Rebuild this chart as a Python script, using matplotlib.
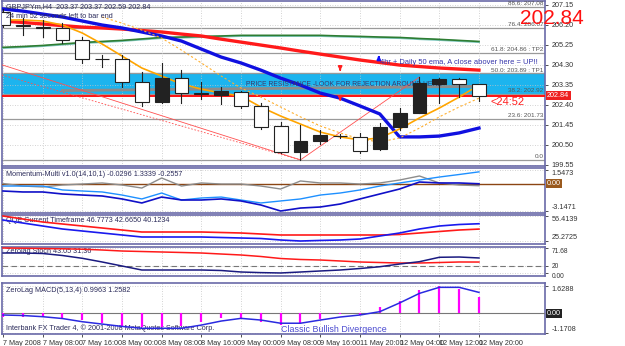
import numpy as np
import matplotlib.pyplot as plt
from matplotlib.patches import Rectangle
from matplotlib.transforms import blended_transform_factory

W, H = 625, 346
plt.rcParams['font.family'] = ['Liberation Sans', 'DejaVu Sans']

# ---------------- data ----------------
x_labels = ["7 May 2008", "7 May 08:00", "7 May 16:00", "8 May 00:00", "8 May 08:00",
            "8 May 16:00", "9 May 00:00", "9 May 08:00", "9 May 16:00", "11 May 20:00",
            "12 May 04:00", "12 May 12:00", "12 May 20:00"]

opens = [206.80, 206.21, 206.11, 206.05, 205.48, 204.60, 204.58, 203.49, 202.54, 203.67,
         202.98, 202.87, 203.01, 202.35, 201.40, 200.17, 200.69, 200.94, 200.88, 200.31,
         201.35, 202.01, 203.39, 203.63, 203.37]
highs = [206.95, 206.52, 206.43, 206.28, 205.62, 204.77, 204.77, 203.96, 204.39, 204.05,
         203.49, 203.25, 203.06, 202.49, 201.59, 201.45, 201.21, 201.02, 201.07, 201.54,
         202.25, 203.72, 203.67, 203.67, 203.37]
lows = [206.10, 205.71, 205.62, 205.33, 204.39, 204.20, 203.25, 202.35, 202.49, 202.49,
        202.67, 202.44, 202.25, 201.26, 200.12, 199.79, 200.54, 200.83, 200.12, 200.26,
        201.21, 202.01, 202.49, 202.77, 202.59]
closes = [206.19, 206.15, 206.07, 205.48, 204.58, 204.56, 203.49, 202.54, 203.67, 202.96,
          202.94, 203.06, 202.35, 201.35, 200.17, 200.69, 200.97, 200.90, 200.21, 201.35,
          202.01, 203.44, 203.63, 203.39, 202.84]

ma_blue = [206.95, 206.85, 206.71, 206.57, 206.38, 206.19, 206.05, 205.86, 205.67, 205.43,
           205.05, 204.67, 204.39, 204.05, 203.67, 203.34, 202.96, 202.72, 202.35, 201.97,
           200.88, 200.88, 200.92, 201.07, 201.30]
ma_red = [206.38, 206.31, 206.24, 206.16, 206.09, 206.05, 206.00, 205.93, 205.86, 205.76,
          205.67, 205.52, 205.38, 205.24, 205.10, 204.95, 204.81, 204.67, 204.53, 204.41,
          204.29, 204.22, 204.15, 204.10, 204.05]
ma_green = [205.10, 205.14, 205.19, 205.26, 205.33, 205.38, 205.43, 205.50, 205.57, 205.59,
            205.62, 205.64, 205.67, 205.67, 205.67, 205.67, 205.67, 205.64, 205.62, 205.59,
            205.57, 205.52, 205.48, 205.43, 205.38]
ma_orange = [206.43, 206.43, 206.38, 206.19, 205.81, 205.29, 204.72, 204.15, 203.77, 203.39,
             203.15, 202.96, 202.82, 202.30, 201.87, 201.49, 201.11, 200.88, 200.74, 200.83,
             201.26, 201.78, 202.25, 202.77, 203.34]
orange_dot_start = 5
ma_orange_dot = [206.57, 206.28, 205.95, 205.57, 205.00, 204.39, 203.77, 203.20, 202.77, 202.30,
                 201.83, 201.40, 201.07, 200.78, 200.64, 200.83, 201.30, 201.83, 202.30, 202.72]

fib_levels = [207.06, 206.06, 204.86, 203.89, 202.92, 201.73, 199.78]
fib_texts = ["88.6: 207.08", "76.4: 206.07", "61.8: 204.86 : TP2", "50.0: 203.89 : TP1",
             "38.2: 202.92", "23.6: 201.73", "0.0"]
price_ticks = [207.15, 206.20, 205.25, 204.30, 203.35, 202.40, 201.45, 200.50, 199.55]
zone_low, zone_high = 202.88, 203.89
bid = 202.84
grey_level = ([3, 24], [203.08, 203.28])

# trend lines (bar, price) pairs
trend_solid = ([-0.05, 15, 21], [204.30, 199.79, 203.72])
trend_dot = ([-0.05, 15], [203.82, 199.79])

mom_grey = [0.00, -0.29, -0.40, -0.17, -0.06, 0.06, -0.17, -0.52, 0.63, -0.29, 0.06, -0.06,
            -0.06, -0.29, -0.63, 0.29, 0.06, 0.06, -0.06, 0.06, 0.40, 0.86, 0.06, -0.17, -0.2557]
mom_light = [-0.29, -0.29, -0.29, -0.74, -0.86, -0.97, -1.32, -1.77, -1.09, -1.89, -1.66, -1.55,
             -1.89, -2.23, -2.00, -1.77, -1.32, -1.09, -0.74, -0.29, 0.06, 0.40, 0.74, 1.03, 1.3339]
mom_dark = [-0.86, -0.97, -0.97, -1.20, -1.32, -1.43, -1.77, -2.23, -1.55, -1.89, -1.89, -1.77,
            -2.00, -2.46, -3.15, -2.81, -2.69, -2.35, -1.77, -1.20, -0.63, 0.17, 0.06, 0.06, -0.0296]

qqe_red = [56.41, 52.68, 48.94, 46.45, 43.96, 41.47, 38.97, 36.48, 36.48, 36.48, 36.48, 35.86,
           35.24, 33.99, 32.75, 32.75, 32.75, 32.75, 32.75, 32.75, 33.37, 35.24, 37.11, 38.97, 40.12]
qqe_blue = [51.43, 47.69, 43.96, 40.22, 37.73, 35.24, 32.75, 30.26, 30.26, 30.26, 30.26, 29.63,
            29.01, 28.39, 26.52, 25.27, 25.98, 26.52, 27.76, 31.50, 35.24, 40.22, 43.96, 45.83, 46.78]

sto_red = [71.68, 71.0, 70.2, 69.4, 68.2, 65.9, 63.0, 61.6, 60.2, 58.8, 57.3, 54.4,
           51.6, 47.3, 41.5, 38.7, 37.2, 34.4, 31.5, 30.0, 28.6, 28.6, 30.0, 31.5, 31.36]
sto_navy = [57.3, 57.3, 55.9, 50.1, 42.1, 31.5, 20.0, 8.5, 8.5, 8.5, 8.5, 7.1,
            2.8, 1.0, 0.0, 2.8, 5.7, 8.5, 12.8, 17.9, 25.7, 32.4, 45.0, 45.8, 43.05]

macd_hist = [-0.19, -0.19, -0.19, -0.29, -0.39, -0.57, -0.79, -0.79, -0.79, -0.72, -0.49, -0.29,
             -0.29, -0.49, -0.68, -0.57, -0.33, -0.03, -0.08, 0.39, 0.76, 1.40, 1.6288, 1.45, 0.9963]
macd_sig = [-0.09, -0.12, -0.19, -0.30, -0.49, -0.63, -0.77, -0.88, -0.88, -0.88, -0.69, -0.45,
            -0.29, -0.39, -0.58, -0.58, -0.39, -0.21, -0.09, 0.11, 0.63, 1.20, 1.56, 1.56, 1.2582]

# ---------------- layout ----------------
FRAME = '#6a6aa8'
GRID = '#c4c4c4'
TXT = '#2b2b5a'
FS = 5.2
bars = np.arange(len(opens))
XL = (-0.05, 27.33)

fig = plt.figure(figsize=(W / 100, H / 100), dpi=100)
fig.patch.set_facecolor('white')


def panel(top, bottom, ylim):
    ax = fig.add_axes([2 / W, 1 - bottom / H, 543 / W, (bottom - top) / H])
    ax.set_xlim(*XL)
    ax.set_ylim(*ylim)
    for s in ax.spines.values():
        s.set_color(FRAME)
        s.set_linewidth(1.2)
    ax.yaxis.tick_right()
    ax.tick_params(axis='y', labelsize=FS, length=2.5, pad=2, colors='#333333', width=0.6)
    ax.set_xticks(np.arange(0, 25, 2))
    ax.tick_params(axis='x', length=0, labelbottom=False)
    ax.grid(True, color=GRID, linestyle=(0, (1, 2)), linewidth=0.6, zorder=2)
    return ax


def edge_labels(ax, ticks, labels, last_va='bottom'):
    # top label hangs below the top level, bottom label sits above the bottom level
    ax.set_yticks(ticks)
    ax.set_yticklabels(labels)
    tl = ax.get_yticklabels()
    tl[0].set_va('top')
    tl[-1].set_va(last_va)


# main price panel
ax = panel(1, 166, (199.50, 207.33))
ax.set_yticks(price_ticks)
ax.set_yticklabels([f"{p:.2f}" for p in price_ticks])

ax.axhspan(zone_low, zone_high, color='#1cb4ee', zorder=1, lw=0)
ax.axhline(zone_high, color='#0f8fc8', lw=0.8, zorder=1)
for lv in fib_levels:
    ax.axhline(lv, color='#9a9a9a', lw=0.9, zorder=1.5)
tr = blended_transform_factory(ax.transAxes, ax.transData)
for lv, t in zip(fib_levels, fib_texts):
    ax.text(0.997, lv + 0.03, t, transform=tr, ha='right', va='bottom', fontsize=4.6,
            color='#555555', zorder=6)

ax.plot(grey_level[0], grey_level[1], color='#8c8c8c', lw=2, zorder=3)
ax.axhline(bid, color='#ff1010', lw=1.4, zorder=3)

ax.plot(trend_solid[0], trend_solid[1], color='#ff5050', lw=0.6, zorder=3)
ax.plot(trend_dot[0], trend_dot[1], color='#ff5050', lw=0.6, ls=(0, (2, 2)), zorder=3)

ax.plot(bars, ma_green, color='#7fc8c0', lw=1.4, zorder=3)
ax.plot(bars, np.array(ma_green) + 0.03, color='#2e7d32', lw=1.2, zorder=3)
ax.plot(bars, ma_red, color='#ff1a1a', lw=2.4, zorder=3)
ax.plot(bars, ma_blue, color='#1010e0', lw=2.4, zorder=3)
ax.plot(bars, ma_orange, color='#ffa500', lw=1.2, zorder=3)
ax.plot(bars[orange_dot_start:orange_dot_start + len(ma_orange_dot)], ma_orange_dot,
        color='#ffb030', lw=0.8, ls=(0, (2, 2)), zorder=3)

# candles
for i in bars:
    o, h, l, c = opens[i], highs[i], lows[i], closes[i]
    ax.plot([i, i], [l, h], color='#222222', lw=0.8, zorder=4)
    bull = c >= o
    lo, hi = min(o, c), max(o, c)
    ax.add_patch(Rectangle((i - 0.35, lo), 0.7, max(hi - lo, 0.015),
                           facecolor='#222222' if bull else 'white',
                           edgecolor='#222222', lw=0.8, zorder=5))

# annotations
ax.annotate('', xy=(17, 203.88), xytext=(17, 204.22),
            arrowprops=dict(arrowstyle='-|>', color='#ff2020', lw=1.4, mutation_scale=5), zorder=6)
ax.annotate('', xy=(17, 202.46), xytext=(17, 202.80),
            arrowprops=dict(arrowstyle='-|>', color='#ff2020', lw=1.4, mutation_scale=5), zorder=6)
ax.annotate('', xy=(18.95, 204.88), xytext=(18.95, 204.52),
            arrowprops=dict(arrowstyle='-|>', color='#1010ff', lw=1.4, mutation_scale=5), zorder=6)
ax.text(19.0, 204.43, "4hr + Daily 50 ema, A close abover here = UP!!", fontsize=5.4,
        color='#3333aa', va='center', ha='left', zorder=6)
ax.text(12.25, 203.36, "PRICE RESISTANCE -LOOK FOR REJECTION AROUND HERE", fontsize=4.9,
        color='#3a3a6a', va='center', ha='left', zorder=3.5)
ax.text(24.6, 202.52, "<24:52", fontsize=8, color='#ff2020', va='center', ha='left', zorder=6)
fig.text(584 / W, 1 - 18 / H, "202.84", fontsize=15, color='#ff1010', ha='right', va='center',
         zorder=7)
ax.text(0.008, 0.985, "GBPJPYm,H4  203.37 203.37 202.59 202.84", transform=ax.transAxes,
        fontsize=FS, color=TXT, ha='left', va='top', zorder=7)
ax.text(0.008, 0.93, "24 min 52 seconds left to bar end", transform=ax.transAxes,
        fontsize=FS, color=TXT, ha='left', va='top', zorder=7)
ax.text(1.004, bid, "202.84", transform=tr, fontsize=FS, color='white', ha='left', va='center',
        bbox=dict(boxstyle='square,pad=0.15', fc='#ee2020', ec='none'), zorder=7, clip_on=False)

# momentum panel
am = panel(168, 213, (-3.378, 1.775))
edge_labels(am, [1.5473, -3.1471], ["1.5473", "-3.1471"])
am.axhline(0, color='#8b4513', lw=1.0, zorder=3)
am.plot(bars, mom_grey, color='#8c8c8c', lw=1.0, zorder=4)
am.plot(bars, mom_light, color='#1e90ff', lw=1.0, zorder=4)
am.plot(bars, mom_dark, color='#1010c8', lw=1.2, zorder=4)
am.text(0.008, 0.93, "Momentum-Multi v1.0(14,10,1) -0.0296 1.3339 -0.2557", transform=am.transAxes,
        fontsize=FS, color=TXT, ha='left', va='top')
am.text(1.004, 0, "0.00", transform=blended_transform_factory(am.transAxes, am.transData),
        fontsize=FS, color='white', ha='left', va='center', clip_on=False,
        bbox=dict(boxstyle='square,pad=0.15', fc='#9a5a1e', ec='none'))

# qqe panel
aq = panel(215, 244, (21.54, 57.66))
edge_labels(aq, [56.4139, 25.2725], ["56.4139", "25.2725"])
aq.plot(bars, qqe_red, color='#ff1a1a', lw=1.2, zorder=4)
aq.plot(bars, qqe_blue, color='#1a1aee', lw=1.2, zorder=4)
aq.text(0.008, 0.93, "QQE Current Timeframe 46.7773 42.6650 40.1234", transform=aq.transAxes,
        fontsize=FS, color=TXT, ha='left', va='top')

# stoch panel
ast = panel(247, 276, (-8.7, 74.53))
edge_labels(ast, [71.68, 20, 0], ["71.68", "20", "0.00"], last_va='top')
ast.tick_params(axis='y', labelsize=4.8)
ast.axhline(20, color='#777777', lw=0.8, ls=(0, (5, 3)), zorder=3)
ast.plot(bars, sto_red, color='#ff1a1a', lw=1.1, zorder=4)
ast.plot(bars, sto_navy, color='#1a1a80', lw=1.1, zorder=4)
ast.text(0.008, 0.97, "Zerolag Stoch 43.05 31.36", transform=ast.transAxes,
         fontsize=FS, color=TXT, ha='left', va='top')

# macd panel
ad = panel(283, 334, (-1.222, 1.818))
edge_labels(ad, [1.6288, -1.1708], ["1.6288", "-1.1708"])
ad.axhline(0, color='#777777', lw=0.8, zorder=3)
ad.vlines(bars, 0, macd_hist, color='#ff00ff', lw=1.6, zorder=4)
ad.plot(bars, macd_sig, color='#2a2ae0', lw=1.1, zorder=5)
ad.text(0.008, 0.93, "ZeroLag MACD(5,13,4) 0.9963 1.2582", transform=ad.transAxes,
        fontsize=FS, color=TXT, ha='left', va='top')
ad.text(1.004, 0, "0.00", transform=blended_transform_factory(ad.transAxes, ad.transData),
        fontsize=FS, color='white', ha='left', va='center', clip_on=False,
        bbox=dict(boxstyle='square,pad=0.15', fc='#222222', ec='none'))
ad.text(0.008, 0.04, "Interbank FX Trader 4, \u00a9 2001-2008 MetaQuotes Software Corp.",
        transform=ad.transAxes, fontsize=FS, color=TXT, ha='left', va='bottom')
ad.text(14.0, -0.95, "Classic Bullish Divergence", fontsize=6.4, color='#4a4ad0',
        ha='left', va='center', zorder=6)

# time axis
ad.tick_params(axis='x', length=2.5, width=0.6, colors='#333333', labelbottom=True,
               labelsize=FS, pad=1.5)
ad.set_xticklabels(x_labels, ha='left')

fig.savefig('out.png', dpi=100, facecolor='white')
